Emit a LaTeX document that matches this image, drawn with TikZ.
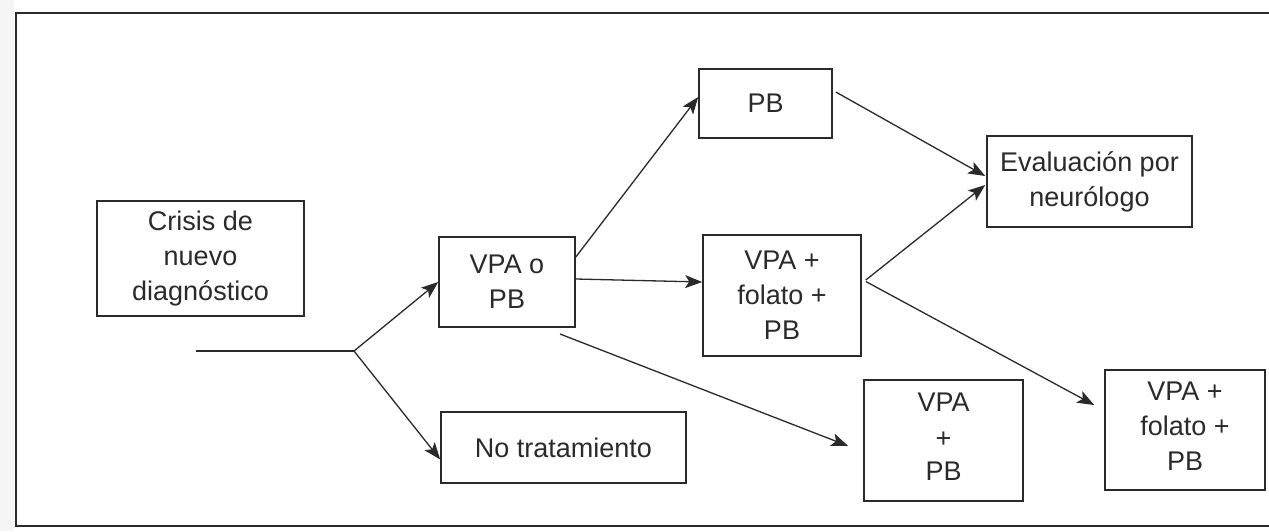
\documentclass[tikz,border=0pt]{standalone}
\usepackage{fontspec}
\setmainfont{Liberation Sans}
\usetikzlibrary{arrows.meta}
\definecolor{ink}{HTML}{2A2A2A}
\tikzset{
  box/.style={draw=ink, line width=1.6pt, rectangle, align=center, inner sep=0pt,
    font=\fontsize{27}{35}\selectfont, text=ink},
  conn/.style={draw=ink, line width=1.3pt, -{Stealth[length=17pt,width=13pt,inset=4pt]}},
  plain/.style={draw=ink, line width=1.3pt},
  frame/.style={draw=ink, line width=1.8pt}
}
\begin{document}
\begin{tikzpicture}[x=1pt,y=-1pt]
\useasboundingbox (0,0) rectangle (1269,531);
\fill[gray!8] (0,0) rectangle (14,531);
\draw[frame] (1269,13) -- (16,13) -- (16,526) -- (1269,526);

\node[box, minimum width=207pt, minimum height=115pt] (crisis) at (200.5,258.5) {Crisis de\\nuevo\\diagnóstico};
\node[box, minimum width=136pt, minimum height=90pt] (vpapb) at (507,282) {VPA o\\PB};
\node[box, minimum width=245pt, minimum height=71pt] (notrat) at (563.5,447.5) {No tratamiento};
\node[box, minimum width=133pt, minimum height=69pt] (pb) at (765.5,103.5) {PB};
\node[box, minimum width=158pt, minimum height=121pt] (mid) at (782,295.5) {VPA +\\folato +\\PB};
\node[box, minimum width=205pt, minimum height=91pt] (eval) at (1089.5,181.5) {Evaluación por\\neurólogo};
\node[box, minimum width=159pt, minimum height=121pt] (vpapb2) at (943.5,440.5) {\rule{0pt}{0pt}\\[-24pt]VPA\\[1pt]+\\[-2pt]PB};
\node[box, minimum width=160pt, minimum height=120pt] (right) at (1185,430) {\rule{0pt}{0pt}\\[-25pt]VPA +\\folato +\\PB};

\coordinate (start) at (196,351);
\coordinate (branch) at (354,351);
\coordinate (low) at (560,334);

\draw[plain] (start) -- (branch);
\draw[conn] (branch) -- (vpapb.west);
\draw[conn] (branch) -- ([yshift=-12pt]notrat.west);
\draw[conn] ([yshift=25pt]vpapb.east) -- ([yshift=6.5pt]pb.west);
\draw[conn] ([yshift=3pt]vpapb.east) -- ([yshift=13.5pt]mid.west);
\draw[conn] (low) -- ([xshift=-15pt,yshift=-5.5pt]vpapb2.west);
\draw[conn] ([xshift=3pt,yshift=11.5pt]pb.east) -- ([xshift=-1pt,yshift=5.5pt]eval.west);
\draw[conn] ([xshift=4pt,yshift=15.5pt]mid.east) -- ([xshift=-1pt,yshift=-3.5pt]eval.west);
\draw[conn] ([xshift=4pt,yshift=14pt]mid.east) -- ([xshift=-10pt,yshift=25pt]right.west);
\end{tikzpicture}
\end{document}
